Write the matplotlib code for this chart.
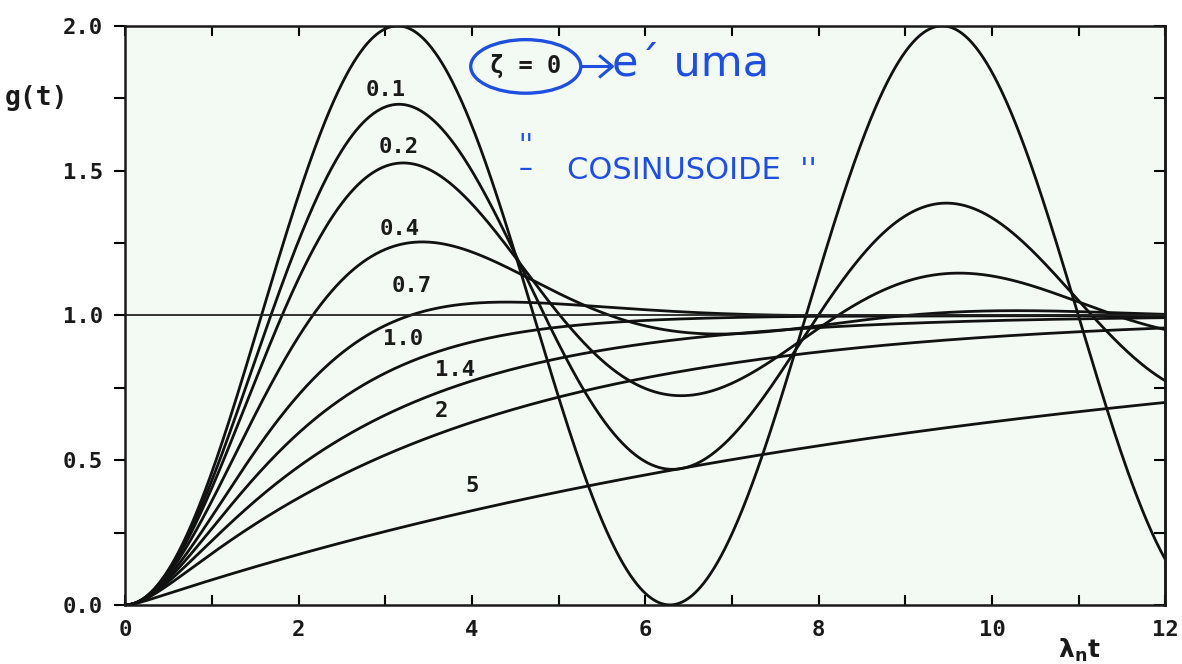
import numpy as np
import matplotlib.pyplot as plt
from matplotlib.patches import Ellipse

# damping ratios of the second-order system and where each curve is labelled
zetas = [0.0, 0.1, 0.2, 0.4, 0.7, 1.0, 1.4, 2.0, 5.0]
labels = ["", "0.1", "0.2", "0.4", "0.7", "1.0", "1.4", "2", "5"]
label_x = [None, 3.0, 3.15, 3.17, 3.3, 3.2, 3.8, 3.65, 4.0]
label_y = [None, 1.78, 1.58, 1.30, 1.10, 0.92, 0.81, 0.67, 0.41]

xticks = [0, 2, 4, 6, 8, 10, 12]
yticks = [0.0, 0.5, 1.0, 1.5, 2.0]


def step_response(z, t):
    # unit step response of 1/(s^2 + 2 z s + 1)
    if z < 1:
        wd = np.sqrt(1 - z**2)
        return 1 - np.exp(-z * t) * (np.cos(wd * t) + z / wd * np.sin(wd * t))
    if z == 1:
        return 1 - np.exp(-t) * (1 + t)
    r = np.sqrt(z**2 - 1)
    p1, p2 = -z + r, -z - r
    return 1 + (p2 * np.exp(p1 * t) - p1 * np.exp(p2 * t)) / (p1 - p2)


t = np.linspace(0, 12, 1200)

fig = plt.figure(figsize=(11.82, 6.64), dpi=100)
ax = fig.add_axes([0.106, 0.089, 0.880, 0.872])
ax.set_facecolor("#f3faf4")

for z in zetas:
    ax.plot(t, step_response(z, t), color="#111111", lw=2.0, solid_capstyle="round")

ax.axhline(1.0, color="#222222", lw=1.3)

font = dict(family="DejaVu Sans Mono", fontweight="bold", fontsize=16, color="#1a1a1a")
for lab, lx, ly in zip(labels, label_x, label_y):
    if lab:
        ax.text(lx, ly, lab, ha="center", va="center", **font)

ax.set_xlim(0, 12)
ax.set_ylim(0, 2)
ax.set_xticks(xticks)
ax.set_yticks(yticks)
ax.set_xticklabels([str(v) for v in xticks], **font)
ax.set_yticklabels([f"{v:.1f}" for v in yticks], **font)
ax.set_xticks(np.arange(0, 12.1, 1), minor=True)
ax.set_yticks(np.arange(0, 2.01, 0.25), minor=True)
ax.tick_params(axis="x", which="both", direction="in", top=True, length=7, width=1.5, pad=11)
ax.tick_params(axis="y", which="both", direction="out", length=8, width=1.5, pad=8)
for s in ax.spines.values():
    s.set_linewidth(1.8)
    s.set_color("#1a1a1a")

# right-hand axis carries inward ticks only
rax = ax.secondary_yaxis("right")
rax.set_yticks(np.arange(0, 2.01, 0.25))
rax.tick_params(direction="in", length=8, width=1.5, labelright=False)
rax.spines["right"].set_linewidth(1.8)

fig.text(0.004, 0.853, "g(t)", ha="left", va="center",
         **{**font, "fontsize": 19})
fig.text(0.913, 0.02, r"$\mathbf{\lambda_n t}$", ha="center", va="center",
         fontsize=18, color="#1a1a1a")

# handwritten note in blue
blue = "#1f4fe0"
ax.text(4.62, 1.86, "ζ = 0", ha="center", va="center", **{**font, "fontsize": 17})
ax.add_patch(Ellipse((4.62, 1.86), 1.27, 0.185, fill=False, ec=blue, lw=2.4))
ax.plot([5.26, 5.6], [1.86, 1.86], color=blue, lw=2.2)
ax.plot([5.48, 5.62, 5.48], [1.895, 1.86, 1.825], color=blue, lw=2.2)
ax.text(5.62, 1.87, "e´ uma", ha="left", va="center", fontsize=31,
        color=blue, family="DejaVu Sans")
ax.text(4.62, 1.545, "''\n–", ha="center", va="center", fontsize=20, color=blue,
        linespacing=0.75)
ax.text(5.1, 1.50, "COSINUSOIDE  ''", ha="left", va="center", fontsize=22,
        color=blue, family="DejaVu Sans")

fig.savefig("out.png", dpi=100)
